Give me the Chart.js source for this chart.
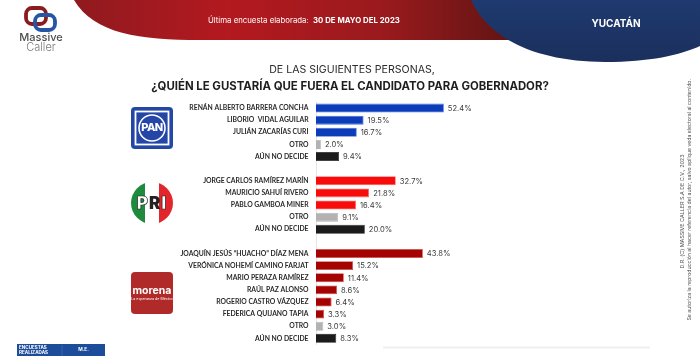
<!DOCTYPE html>
<html>
<head>
<meta charset="utf-8">
<script src="https://cdn.jsdelivr.net/npm/chart.js@4.4.0/dist/chart.umd.min.js"></script>
<style>
  html, body { margin:0; padding:0; background:#fff; }
  #wrap { position:relative; width:700px; height:356px; overflow:hidden; font-family: Inter, "Open Sans", sans-serif; }
  #bg { position:absolute; left:0; top:0; }
  #c { position:absolute; left:0; top:0; z-index:2; }
  .t { position:absolute; white-space:nowrap; z-index:3; }
</style>
</head>
<body>
<div id="wrap">
<svg id="bg" width="700" height="356" viewBox="0 0 700 356">
  <defs>
    <linearGradient id="rg" x1="70" y1="0" x2="520" y2="0" gradientUnits="userSpaceOnUse">
      <stop offset="0" stop-color="#8e1a1f"/>
      <stop offset="0.35" stop-color="#b3191f"/>
      <stop offset="0.7" stop-color="#991a1d"/>
      <stop offset="1" stop-color="#5e1413"/>
    </linearGradient>
    <linearGradient id="bgr" x1="0" y1="0" x2="0" y2="62" gradientUnits="userSpaceOnUse">
      <stop offset="0" stop-color="#1f3a70"/>
      <stop offset="1" stop-color="#1a2f5c"/>
    </linearGradient>
    <clipPath id="priClip"><circle cx="152" cy="203" r="21"/></clipPath>
  </defs>
  <!-- header shapes -->
  <path d="M74,0 C94,34 140,40 200,40 L520,40 L520,0 Z" fill="url(#rg)"/>
  <path d="M471,0 C488,38 535,62 605,62 C650,62 680,55 700,46 L700,0 Z" fill="url(#bgr)"/>
  <!-- Massive Caller icon -->
  <rect x="26" y="8" width="20" height="16" rx="6" fill="none" stroke="#8a1c1f" stroke-width="3.8"/>
  <rect x="35" y="15" width="20" height="15" rx="6" fill="none" stroke="#2456a3" stroke-width="3.8"/>
  <!-- PAN logo -->
  <rect x="131" y="107" width="42" height="42" rx="4" fill="#2446a6"/>
  <rect x="135.5" y="111.5" width="33" height="33" fill="none" stroke="#fff" stroke-width="1.8"/>
  <circle cx="152" cy="128" r="13" fill="none" stroke="#fff" stroke-width="1.6"/>
  <!-- PRI logo -->
  <g clip-path="url(#priClip)">
    <rect x="130" y="180" width="15" height="46" fill="#1e8a3e"/>
    <rect x="145" y="180" width="14" height="46" fill="#ffffff"/>
    <rect x="159" y="180" width="16" height="46" fill="#e3262b"/>
  </g>
  <!-- Morena logo -->
  <rect x="131" y="272" width="42" height="42" rx="4" fill="#b12a2a"/>
  <!-- bottom elements -->
  <rect x="17" y="344" width="88" height="14" fill="#1d4c9a"/>
  <line x1="62" y1="345" x2="62" y2="356" stroke="#4a72b5" stroke-width="0.6"/>
  <line x1="383" y1="347.5" x2="650" y2="347.5" stroke="#f0f0f0" stroke-width="2"/>
</svg>

<div class="t" style="left:19px;top:32px;width:44px;text-align:center;font-size:11px;color:#4d4d4d;font-weight:500;line-height:11px;">Massive</div>
<div class="t" style="left:19px;top:42px;width:44px;text-align:center;font-size:11px;color:#7a7a7a;font-weight:300;line-height:11px;">Caller</div>

<div class="t" style="left:208px;top:14px;font-size:7.8px;color:#fff;line-height:12px;">Última encuesta elaborada:&nbsp; <b>30 DE MAYO DEL 2023</b></div>
<div class="t" style="left:590px;top:16px;width:52px;text-align:center;font-size:10px;color:#fff;font-weight:700;line-height:14px;">YUCATÁN</div>

<div class="t" style="left:0;top:63px;width:704px;text-align:center;font-size:10.6px;color:#2b2b2b;line-height:14px;">DE LAS SIGUIENTES PERSONAS,</div>
<div class="t" style="left:0;top:79px;width:700px;text-align:center;font-size:11.4px;color:#1e1e1e;font-weight:700;line-height:14px;">¿QUIÉN LE GUSTARÍA QUE FUERA EL CANDIDATO PARA GOBERNADOR?</div>

<div class="t" style="left:131px;top:120px;width:42px;text-align:center;font-size:11px;color:#fff;font-weight:800;line-height:14px;letter-spacing:-0.5px;">PAN</div>
<div class="t" style="left:131px;top:193px;width:42px;text-align:center;font-size:17px;color:#222;font-weight:900;line-height:20px;letter-spacing:1px;"><span style="color:#fff;-webkit-text-stroke:0.7px #222;">P</span>R<span style="color:#fff;-webkit-text-stroke:0.7px #222;">I</span></div>
<div class="t" style="left:131px;top:285px;width:42px;text-align:center;font-size:10.5px;color:#fff;font-weight:700;line-height:12px;">morena</div>
<div class="t" style="left:131px;top:297px;width:42px;text-align:center;font-size:3.6px;color:#fff;line-height:5px;">La esperanza de México</div>

<div class="t" style="left:614px;top:207.5px;width:136px;height:7px;text-align:center;font-size:5.4px;color:#555;line-height:7px;transform:rotate(-90deg);transform-origin:50% 50%;">D.R. (C) MASSIVE CALLER S.A DE C.V., 2023</div>
<div class="t" style="left:569px;top:196.5px;width:240px;height:7px;text-align:center;font-size:5.2px;color:#555;line-height:7px;transform:rotate(-90deg);transform-origin:50% 50%;">Se autoriza la reproducción al hacer referencia del autor, salvo aplique veda electoral al contenido.</div>

<div class="t" style="left:19px;top:344.5px;font-size:4.6px;color:#fff;font-weight:700;line-height:5.5px;">ENCUESTAS<br>REALIZADAS</div>
<div class="t" style="left:62px;top:346px;width:43px;text-align:center;font-size:4.8px;color:#fff;font-weight:700;line-height:6px;">M.E.</div>

<canvas id="c" width="700" height="356"></canvas>
</div>

<script>
// ---- data ----
const panNames = ["RENÁN ALBERTO BARRERA CONCHA", "LIBORIO  VIDAL AGUILAR", "JULIÁN ZACARÍAS CURI", "OTRO", "AÚN NO DECIDE"];
const panValues = [52.4, 19.5, 16.7, 2.0, 9.4];
const priNames = ["JORGE CARLOS RAMÍREZ MARÍN", "MAURICIO SAHUÍ RIVERO", "PABLO GAMBOA MINER", "OTRO", "AÚN NO DECIDE"];
const priValues = [32.7, 21.8, 16.4, 9.1, 20.0];
const morenaNames = ["JOAQUÍN JESÚS “HUACHO” DÍAZ MENA", "VERÓNICA NOHEMÍ CAMINO FARJAT", "MARIO PERAZA RAMÍREZ", "RAÚL PAZ ALONSO", "ROGERIO CASTRO VÁZQUEZ", "FEDERICA QUIJANO TAPIA", "OTRO", "AÚN NO DECIDE"];
const morenaValues = [43.8, 15.2, 11.4, 8.6, 6.4, 3.3, 3.0, 8.3];

// ---- styles ----
const PAN_C = "#0b3dbb", PRI_C = "#f70b0b", MOR_C = "#a50202", OTRO_C = "#b2b2b2", NODEC_C = "#1b1b1b";
function colorFor(name, partyColor) {
  if (name === "OTRO") return OTRO_C;
  if (name === "AÚN NO DECIDE") return NODEC_C;
  return partyColor;
}
const labels = [], values = [], colors = [], borders = [];
function addGroup(names, vals, pc, bc, gap) {
  names.forEach((n, i) => {
    labels.push(n); values.push(vals[i]);
    const c = colorFor(n, pc);
    colors.push(c);
    borders.push(c === pc ? bc : c);
  });
  if (gap) { labels.push(""); values.push(null); colors.push("rgba(0,0,0,0)"); borders.push("rgba(0,0,0,0)"); }
}
addGroup(panNames, panValues, PAN_C, "#4a6fd0", true);
addGroup(priNames, priValues, PRI_C, "#ff6b6b", true);
addGroup(morenaNames, morenaValues, MOR_C, "#d04a4a", false);

const valueLabels = {
  id: "valueLabels",
  afterDatasetsDraw(chart) {
    const ctx = chart.ctx;
    const meta = chart.getDatasetMeta(0);
    ctx.save();
    ctx.font = "400 7.6px Inter, 'Open Sans', sans-serif";
    ctx.fillStyle = "#3a3a3a";
    ctx.textBaseline = "middle";
    ctx.textAlign = "left";
    meta.data.forEach((bar, i) => {
      const v = chart.data.datasets[0].data[i];
      if (v === null || v === undefined) return;
      ctx.fillText(v.toFixed(1) + "%", bar.x + 4, bar.y + 0.5);
    });
    ctx.restore();
  }
};

new Chart(document.getElementById("c"), {
  type: "bar",
  data: {
    labels: labels,
    datasets: [{
      data: values,
      backgroundColor: colors,
      borderColor: borders,
      borderWidth: 0.8,
      barPercentage: 0.74,
      categoryPercentage: 1.0
    }]
  },
  options: {
    indexAxis: "y",
    responsive: false,
    animation: false,
    devicePixelRatio: 1,
    layout: { padding: { left: 0, right: 140, top: 102, bottom: 10 } },
    plugins: { legend: { display: false }, tooltip: { enabled: false } },
    scales: {
      x: { display: false, min: 0, max: 100 },
      y: {
        afterFit(scale) { scale.width = 316; },
        grid: { display: false, drawTicks: false },
        border: { display: true, color: "#e6e6e6", width: 1 },
        ticks: {
          autoSkip: false,
          padding: 7.5,
          color: "#2a2a2a",
          font: { family: "Lato, Inter, sans-serif", size: 6.8, weight: "700" }
        }
      }
    }
  },
  plugins: [valueLabels]
});
</script>
</body>
</html>
